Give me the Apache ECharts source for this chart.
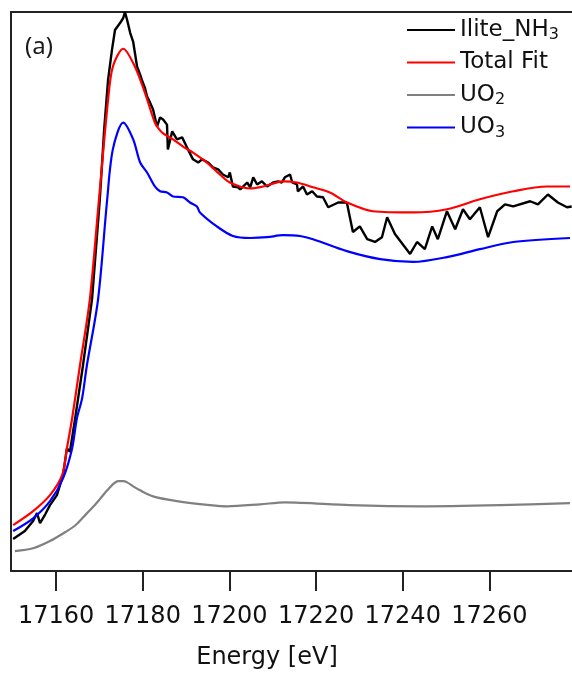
<!DOCTYPE html>
<html>
<head>
<meta charset="utf-8">
<script src="https://cdn.jsdelivr.net/npm/echarts@6/dist/echarts.min.js"></script>
<style>
  html, body { margin: 0; padding: 0; background: #fff; overflow: hidden; }
  #chart { width: 572px; height: 675px; }
</style>
</head>
<body>
<div id="chart"></div>
<script>
// tick labels of the energy axis
var tickValues = [17160, 17180, 17200, 17220, 17240, 17260];

// Ilite_NH3 (measured, noisy)
var sampleE = [17150.1, 17152.8, 17154.7, 17155.6, 17156.3, 17157.5, 17158.6, 17160.2, 17161.6, 17162.5,
  17163.2, 17164.4, 17166.2, 17168.3, 17170.1, 17171.1, 17172.0, 17172.9, 17173.6, 17174.8,
  17175.5, 17175.9, 17176.4, 17177.1, 17177.8, 17178.7, 17179.4, 17179.8, 17180.5, 17181.0,
  17181.7, 17182.4, 17183.3, 17184.0, 17184.7, 17185.6, 17185.8, 17186.8, 17187.9, 17189.1,
  17190.2, 17191.6, 17192.8, 17193.7, 17195.1, 17196.2, 17197.4, 17198.5, 17199.7, 17200.1,
  17200.8, 17202.0, 17202.5, 17204.1, 17204.8, 17205.5, 17206.4, 17207.5, 17208.7, 17210.1,
  17211.2, 17212.1, 17212.8, 17214.0, 17214.5, 17215.6, 17215.8, 17217.0, 17217.9, 17219.1,
  17220.2, 17221.6, 17222.8, 17225.1, 17227.1, 17228.5, 17230.1, 17231.8, 17233.6, 17235.2,
  17236.4, 17238.2, 17241.7, 17243.3, 17245.1, 17246.8, 17248.1, 17250.2, 17252.1, 17253.9,
  17255.5, 17257.8, 17259.7, 17261.8, 17263.6, 17265.5, 17269.4, 17271.2, 17273.5, 17275.8,
  17277.9, 17279.0];
var sampleV = [0.080, 0.100, 0.125, 0.145, 0.120, 0.142, 0.165, 0.190, 0.240, 0.307,
  0.299, 0.382, 0.514, 0.681, 0.931, 1.106, 1.230, 1.305, 1.355, 1.373,
  1.385, 1.400, 1.380, 1.348, 1.325, 1.263, 1.243, 1.230, 1.210, 1.188,
  1.173, 1.155, 1.113, 1.136, 1.131, 1.118, 1.056, 1.101, 1.081, 1.086,
  1.061, 1.031, 1.023, 1.031, 1.023, 1.011, 1.006, 0.993, 0.986, 0.998,
  0.963, 0.961, 0.956, 0.973, 0.961, 0.986, 0.968, 0.976, 0.963, 0.973,
  0.976, 0.973, 0.986, 0.993, 0.973, 0.968, 0.951, 0.963, 0.943, 0.951,
  0.938, 0.936, 0.911, 0.923, 0.923, 0.849, 0.863, 0.831, 0.824, 0.836,
  0.886, 0.844, 0.794, 0.824, 0.806, 0.863, 0.831, 0.901, 0.856, 0.906,
  0.881, 0.911, 0.836, 0.901, 0.918, 0.913, 0.926, 0.918, 0.943, 0.923,
  0.911, 0.913];

// Total Fit
var fitE = [17150.1, 17154.7, 17158.6, 17161.4, 17162.5, 17163.7, 17165.5, 17167.8, 17169.9, 17172.0,
  17173.1, 17175.5, 17178.2, 17180.5, 17182.8, 17183.8, 17184.7, 17187.0, 17189.3, 17191.6, 17194.8,
  17197.8, 17200.1, 17204.8, 17207.8, 17212.4, 17215.6, 17219.3, 17223.2, 17227.1, 17233.1,
  17242.4, 17250.2, 17257.8, 17265.5, 17273.3, 17278.6];
var fitV = [0.115, 0.150, 0.190, 0.240, 0.307, 0.382, 0.514, 0.681, 0.931, 1.180,
  1.263, 1.308, 1.263, 1.198, 1.123, 1.106, 1.096, 1.081, 1.063, 1.048, 1.023,
  0.993, 0.973, 0.958, 0.963, 0.976, 0.973, 0.961, 0.948, 0.923, 0.901,
  0.898, 0.906, 0.931, 0.951, 0.963, 0.963];

// UO2
var uo2E = [17150.5, 17154.7, 17158.6, 17162.5, 17164.4, 17166.2, 17168.5, 17170.1, 17171.8, 17173.1,
  17174.3, 17175.5, 17176.4, 17177.8, 17179.4, 17182.4, 17187.9, 17195.5, 17199.5, 17207.1,
  17212.8, 17227.8, 17244.0, 17262.5, 17278.6];
var uo2V = [0.050, 0.057, 0.075, 0.100, 0.114, 0.134, 0.160, 0.180, 0.202, 0.217,
  0.225, 0.225, 0.222, 0.212, 0.202, 0.187, 0.175, 0.165, 0.162, 0.167,
  0.172, 0.165, 0.162, 0.165, 0.170];

// UO3
var uo3E = [17150.1, 17154.7, 17158.6, 17161.6, 17163.7, 17164.8, 17166.0, 17167.1, 17169.7, 17171.8,
  17173.1, 17175.5, 17177.8, 17179.4, 17181.0, 17182.8, 17184.0, 17185.6, 17187.0, 17189.3,
  17190.9, 17192.5, 17193.2, 17197.1, 17200.8, 17204.8, 17208.7, 17212.4, 17216.3, 17219.3,
  17227.1, 17234.8, 17242.4, 17250.2, 17257.8, 17265.5, 17278.6];
var uo3V = [0.100, 0.132, 0.175, 0.232, 0.307, 0.382, 0.432, 0.514, 0.681, 0.931,
  1.056, 1.123, 1.081, 1.023, 0.998, 0.963, 0.951, 0.948, 0.938, 0.936,
  0.923, 0.913, 0.898, 0.863, 0.839, 0.834, 0.836, 0.841, 0.839, 0.831,
  0.801, 0.781, 0.774, 0.786, 0.806, 0.824, 0.834];

function pairs(xs, ys) {
  return xs.map(function (x, i) { return [x, ys[i]]; });
}

var FONT = 'DejaVu Sans';
var X_MIN = 17149.6, X_MAX = 17279.06;
var chart = echarts.init(document.getElementById('chart'));
chart.setOption({
  animation: false,
  backgroundColor: '#fff',
  grid: { left: 11, top: 12, right: 0, bottom: 102 },
  legend: {
    orient: 'vertical',
    left: 402, top: 12,
    icon: 'rect',
    itemWidth: 48, itemHeight: 2, itemGap: 6.5,
    formatter: function (name) {
      return name.replace(/(\d)$/, '{sub|$1}');
    },
    textStyle: {
      fontFamily: FONT, fontSize: 23, color: '#111', lineHeight: 26,
      rich: {
        sub: { fontFamily: FONT, fontSize: 16, lineHeight: 10, verticalAlign: 'bottom', color: '#111' }
      }
    },
    data: ['Ilite_NH3', 'Total Fit', 'UO2', 'UO3']
  },
  graphic: [{
    type: 'text', left: 25, top: 35,
    style: { text: '(a)', fontFamily: 'Noto Sans', fontSize: 24, fill: '#1a1a1a' }
  }],
  xAxis: [{
    type: 'value', min: X_MIN, max: X_MAX,
    name: 'Energy [eV]', nameLocation: 'middle', nameGap: 75,
    nameTextStyle: { fontFamily: FONT, fontSize: 24, color: '#111', padding: [0, 49, 0, 0] },
    axisLine: { lineStyle: { color: '#222', width: 2 } },
    axisTick: { show: true, length: 20, lineStyle: { color: '#222', width: 2 }, customValues: tickValues },
    axisLabel: {
      margin: 34, fontFamily: FONT, fontSize: 24, color: '#111', customValues: tickValues,
      formatter: function (v) { return String(v); }
    },
    splitLine: { show: false }
  }, {
    // top frame line
    type: 'value', position: 'top', min: X_MIN, max: X_MAX,
    axisLine: { show: true, lineStyle: { color: '#222', width: 2 } },
    axisTick: { show: false }, axisLabel: { show: false }, splitLine: { show: false }
  }],
  yAxis: {
    type: 'value', min: 0, max: 1.4,
    axisLine: { show: true, lineStyle: { color: '#222', width: 2 } },
    axisTick: { show: false },
    axisLabel: { show: false },
    splitLine: { show: false }
  },
  series: [
    { name: 'Ilite_NH3', type: 'line', symbol: 'none', data: pairs(sampleE, sampleV),
      lineStyle: { color: '#000', width: 2.4 }, itemStyle: { color: '#000' } },
    { name: 'Total Fit', type: 'line', symbol: 'none', smooth: 0.3, data: pairs(fitE, fitV),
      lineStyle: { color: '#ff0000', width: 2.2 }, itemStyle: { color: '#ff0000' } },
    { name: 'UO2', type: 'line', symbol: 'none', smooth: 0.3, data: pairs(uo2E, uo2V),
      lineStyle: { color: '#808080', width: 2.2 }, itemStyle: { color: '#808080' } },
    { name: 'UO3', type: 'line', symbol: 'none', smooth: 0.3, data: pairs(uo3E, uo3V),
      lineStyle: { color: '#0000ff', width: 2.2 }, itemStyle: { color: '#0000ff' } }
  ]
});
</script>
</body>
</html>
